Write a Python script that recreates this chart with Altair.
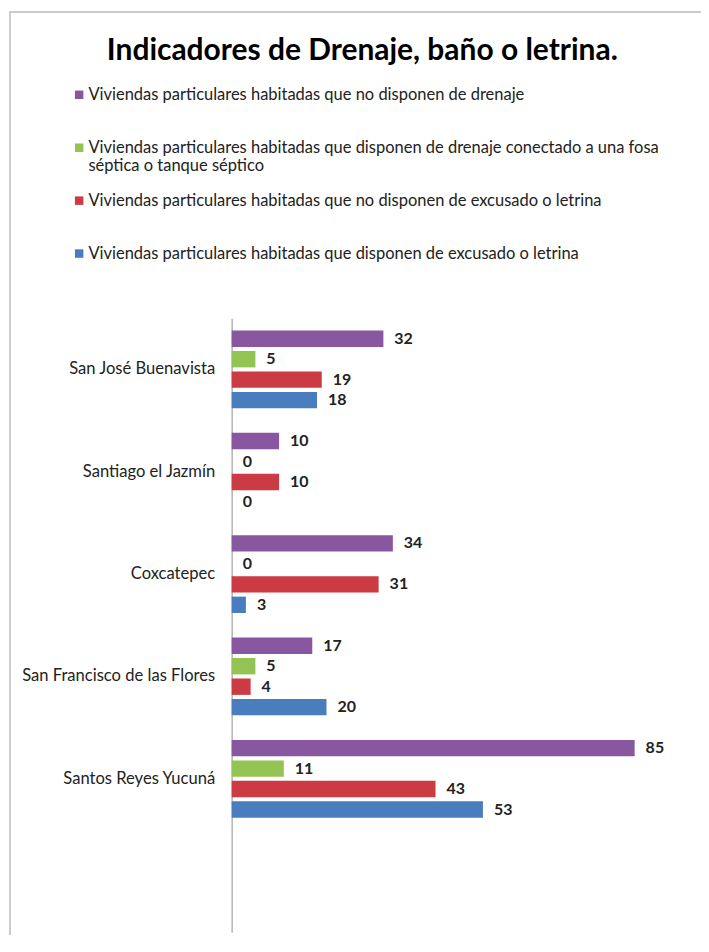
import altair as alt
import pandas as pd

municipios = ["San José Buenavista", "Santiago el Jazmín", "Coxcatepec",
              "San Francisco de las Flores", "Santos Reyes Yucuná"]
series = [
    "Viviendas particulares habitadas que no disponen de drenaje",
    "Viviendas particulares habitadas que disponen de drenaje conectado a una fosa séptica o tanque  séptico",
    "Viviendas particulares habitadas que no disponen de excusado o letrina",
    "Viviendas particulares habitadas que disponen de excusado o letrina",
]
no_drenaje = [32, 10, 34, 17, 85]
fosa_septica = [5, 0, 0, 5, 11]
no_excusado = [19, 10, 31, 4, 43]
con_excusado = [18, 0, 3, 20, 53]
colores = ["#8857A0", "#93C352", "#CC3B44", "#4A7DBE"]

valores = [no_drenaje, fosa_septica, no_excusado, con_excusado]
rows = []
for s, vals in zip(series, valores):
    for m, v in zip(municipios, vals):
        rows.append({"Municipio": m, "Serie": s, "Valor": v})
df = pd.DataFrame(rows)

FONT = "Lato"
y_domain = municipios + [" "]

label_expr = (
    f"datum.label == '{series[1]}' ? "
    "['Viviendas particulares habitadas que disponen de drenaje conectado a una fosa', "
    "'séptica o tanque  séptico'] : datum.label"
)

base = alt.Chart(df).encode(
    y=alt.Y("Municipio:N", scale=alt.Scale(domain=y_domain, paddingInner=0.2, paddingOuter=0.1),
            axis=alt.Axis(title=None, ticks=False, labelPadding=17, labelFont=FONT,
                          labelFontSize=16.6, labelColor="#222222", domainColor="#b5b5b5",
                          domainWidth=1.5, labelLimit=300)),
    yOffset=alt.YOffset("Serie:N", scale=alt.Scale(domain=series, paddingInner=0.2, paddingOuter=0.1)),
    x=alt.X("Valor:Q", scale=alt.Scale(domain=[0, 99], nice=False), axis=None),
)

bars = base.mark_bar().encode(
    color=alt.Color("Serie:N", scale=alt.Scale(domain=series, range=colores),
                    legend=alt.Legend(title=None, orient="none", legendX=-161, legendY=-232,
                                      direction="vertical", gridAlign="all", rowPadding=17,
                                      symbolType="square", symbolSize=72, symbolStrokeWidth=0,
                                      labelFont=FONT, labelFontSize=16.5, labelColor="#222222",
                                      labelLimit=0, labelOffset=1, padding=0,
                                      labelExpr=label_expr)),
)

labels = base.mark_text(align="left", baseline="middle", dx=11, font=FONT, fontSize=16,
                        fontWeight="bold", color="#222222").encode(text="Valor:Q")

frame_v = alt.Chart(df).mark_rule(color="#cccccc", strokeWidth=1.5).encode(
    x=alt.value(-222), y=alt.value(-307), y2=alt.value(640))
frame_h = alt.Chart(df).mark_rule(color="#cccccc", strokeWidth=1.5).encode(
    x=alt.value(-222), x2=alt.value(480), y=alt.value(-307))

chart = alt.layer(bars, labels, frame_v, frame_h).properties(
    width=470, height=615,
    title=alt.TitleParams("Indicadores de Drenaje, baño o letrina.", anchor="start", frame="group",
                          font=FONT, fontSize=30, fontWeight="bold", color="#000000",
                          dx=-125, dy=59),
    autosize=alt.AutoSizeParams(type="none"),
    padding={"left": 224, "top": 310, "right": 0, "bottom": 2},
).configure_view(stroke=None)

chart.save("out.html", embed_options={"renderer": "svg", "actions": False})
